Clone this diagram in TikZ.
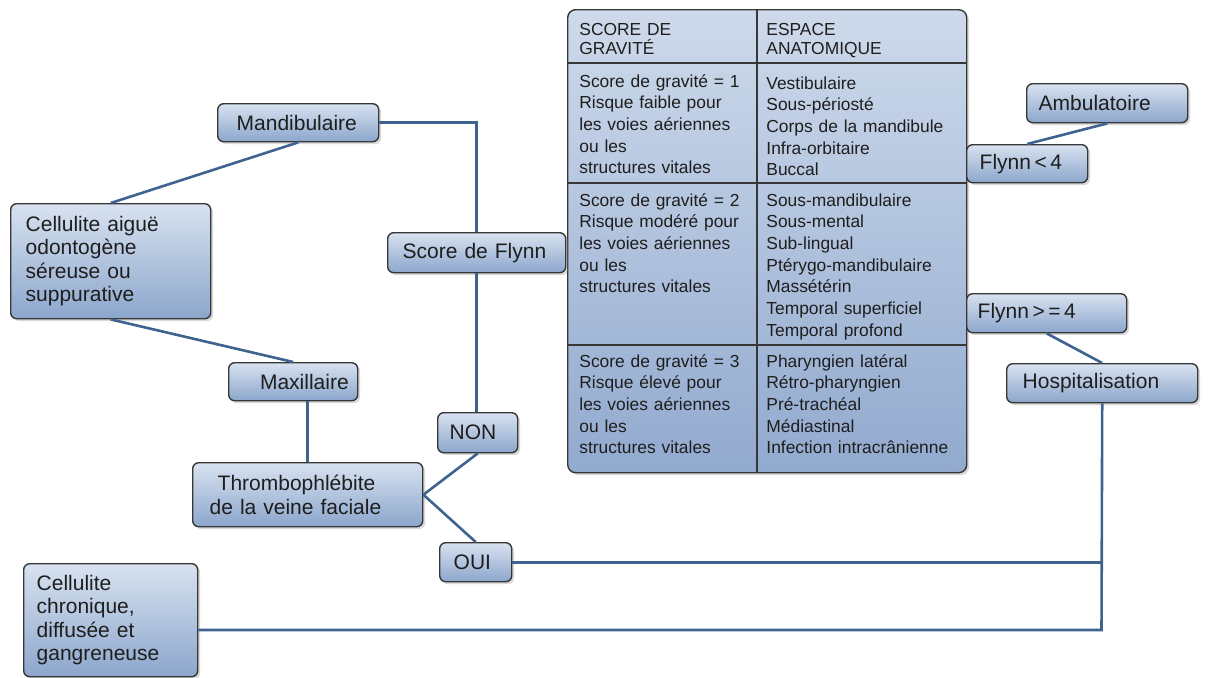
\documentclass[tikz,border=0pt]{standalone}
\usepackage{fontspec}
\setmainfont{Liberation Sans}
\usetikzlibrary{shadows}

\definecolor{boxtop}{RGB}{216,226,240}
\definecolor{boxbot}{RGB}{140,166,204}
\definecolor{tabtop}{RGB}{206,218,235}
\definecolor{tabbot}{RGB}{146,170,207}
\definecolor{linkc}{RGB}{62,99,142}
\definecolor{boxline}{RGB}{55,55,55}
\definecolor{ink}{RGB}{30,30,30}

\tikzstyle{box} = [draw=boxline, line width=0.7pt, rounded corners=3pt,
    top color=boxtop, bottom color=boxbot,
    drop shadow={shadow xshift=1.2pt, shadow yshift=-1.2pt, opacity=0.3},
    anchor=north west, align=left, inner ysep=2pt, text=ink,
    font=\fontsize{10.5}{11.7}\selectfont]
\tikzstyle{tabbox} = [draw=boxline, line width=0.7pt, rounded corners=4pt,
    top color=tabtop, bottom color=tabbot,
    drop shadow={shadow xshift=1.2pt, shadow yshift=-1.2pt, opacity=0.3},
    anchor=north west, inner sep=0pt]
\tikzstyle{cell} = [anchor=base west, inner sep=0pt, align=left, text=ink,
    font=\fontsize{8.7}{10.85}\selectfont]
\tikzstyle{rule} = [draw=boxline, line width=0.6pt]
\tikzstyle{link} = [draw=linkc, line width=1.3pt]

\begin{document}
\begin{tikzpicture}[x=0.5pt, y=-0.5pt]
    \useasboundingbox (0,0) rectangle (1208,677);

    % table of scores
    \node[tabbox, minimum width=199.5pt, minimum height=231.5pt] (grid) at (567,9) {};
    \draw[rule] (757,9) -- (757,472);   % column
    \draw[rule] (567,63) -- (966,63);   % header
    \draw[rule] (567,183) -- (966,183);
    \draw[rule] (567,345) -- (966,345);

    \node[cell, text width=85pt] (h1) at (579,35) {SCORE DE\\[-1pt]GRAVITÉ};
    \node[cell, text width=98pt] (h2) at (766,35) {ESPACE\\[-1pt]ANATOMIQUE};
    \node[cell, text width=85pt] (s1) at (579,87)
        {Score de gravité = 1\\Risque faible pour\\les voies aériennes\\ou les\\structures vitales};
    \node[cell, text width=98pt] (e1) at (766,89)
        {Vestibulaire\\Sous-périosté\\Corps de la mandibule\\Infra-orbitaire\\Buccal};
    \node[cell, text width=85pt] (s2) at (579,206)
        {Score de gravité = 2\\Risque modéré pour\\les voies aériennes\\ou les\\structures vitales};
    \node[cell, text width=98pt] (e2) at (766,206)
        {Sous-mandibulaire\\Sous-mental\\Sub-lingual\\Ptérygo-mandibulaire\\Massétérin\\Temporal superficiel\\Temporal profond};
    \node[cell, text width=85pt] (s3) at (579,367)
        {Score de gravité = 3\\Risque élevé pour\\les voies aériennes\\ou les\\structures vitales};
    \node[cell, text width=98pt] (e3) at (766,367)
        {Pharyngien latéral\\Rétro-pharyngien\\Pré-trachéal\\Médiastinal\\Infection intracrânienne};

    % boxes
    \node[box, minimum width=80.5pt, minimum height=19pt, text width=61.5pt, inner xsep=9.5pt] (mand) at (217,103) {Mandibulaire};
    \node[box, minimum width=100pt, minimum height=57.5pt, text width=85pt, inner xsep=7.5pt] (aigue) at (10,203)
        {Cellulite aiguë\\odontogène\\séreuse ou\\suppurative};
    \node[box, align=right, minimum width=64.5pt, minimum height=19pt, text width=55.5pt, inner xsep=4.5pt] (maxi) at (228,362) {Maxillaire};
    \node[box, minimum width=115pt, minimum height=32pt, text width=98pt, inner xsep=8.5pt] (thrombo) at (192,462)
        {\hspace*{4pt}Thrombophlébite\\de la veine faciale};
    \node[box, minimum width=87pt, minimum height=56.5pt, text width=74pt, inner xsep=6.5pt] (chron) at (23,563)
        {Cellulite\\chronique,\\diffusée et\\gangreneuse};
    \node[box, minimum width=89pt, minimum height=20pt, text width=74pt, inner xsep=7.5pt] (flynn) at (387,232) {Score de Flynn};
    \node[box, minimum width=40pt, minimum height=20pt, text width=28pt, inner xsep=6pt] (non) at (437,412) {NON};
    \node[box, minimum width=36pt, minimum height=19.5pt, text width=22pt, inner xsep=7pt] (oui) at (439,542) {OUI};
    \node[box, minimum width=80.5pt, minimum height=19.5pt, text width=68.5pt, inner xsep=6pt] (amb) at (1026,83) {Ambulatoire};
    \node[box, minimum width=60.5pt, minimum height=19pt, text width=47.5pt, inner xsep=6.5pt] (lt4) at (966,144) {Flynn\,<\,4};
    \node[box, minimum width=80pt, minimum height=19.5pt, text width=69pt, inner xsep=5.5pt] (ge4) at (966,293) {Flynn\,>\,=\,4};
    \node[box, minimum width=95.5pt, minimum height=19.5pt, text width=79.5pt, inner xsep=8pt] (hosp) at (1006,363) {Hospitalisation};

    \coordinate (cj) at (1101.5,630);   % bottom joint

    % links
    \draw[link] (mand.east) -| (flynn.north);
    \draw[link] (flynn.south) -- (flynn.south |- non.north);
    \draw[link] (mand.south) -- (aigue.north);
    \draw[link] (aigue.south) -- (maxi.north);
    \draw[link] (thrombo.north) -- (thrombo.north |- maxi.south);
    \draw[link] (thrombo.east) -- (non.south);
    \draw[link] (thrombo.east) -- (oui.north);
    \draw[link] (oui.east) -- (oui.east -| hosp.south);
    \draw[link] (hosp.south) -- (cj) -- (chron.east |- cj);
    \draw[link] (amb.south) -- (lt4.north);
    \draw[link] (ge4.south) -- (hosp.north);
\end{tikzpicture}
\end{document}
